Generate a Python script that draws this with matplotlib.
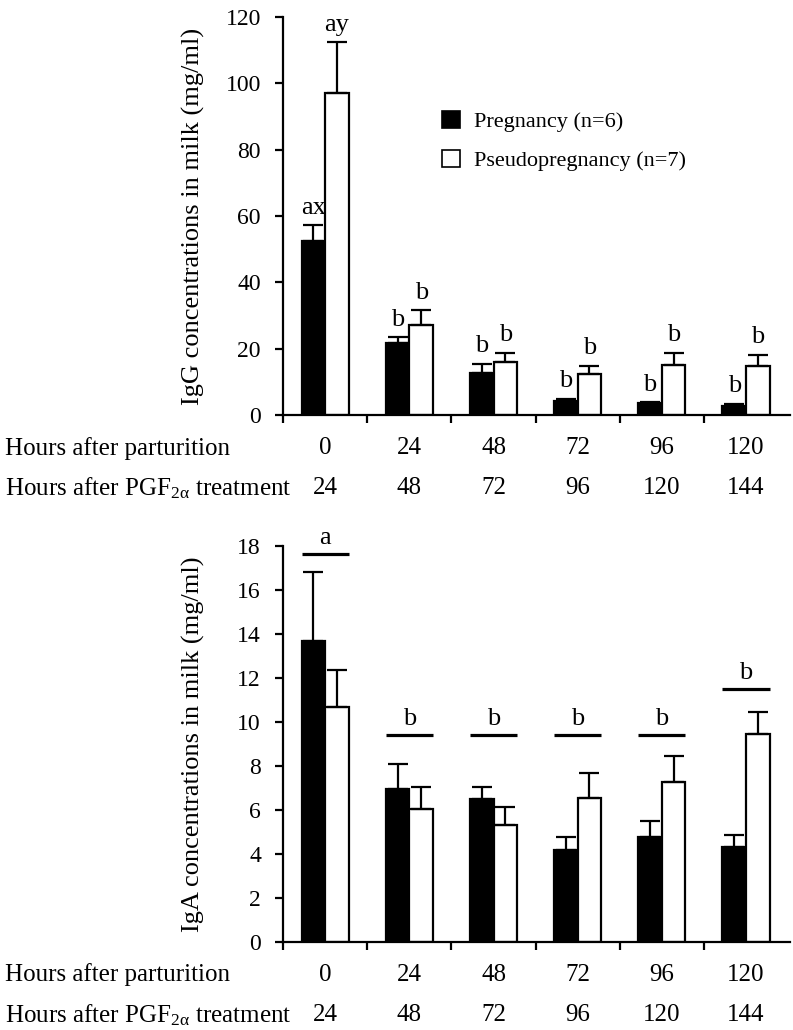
import matplotlib
matplotlib.use("Agg")
import matplotlib.pyplot as plt
from matplotlib.patches import Patch
import numpy as np

plt.rcParams["font.family"] = ["Liberation Serif", "DejaVu Serif"]
plt.rcParams["mathtext.fontset"] = "custom"
plt.rcParams["mathtext.rm"] = "Liberation Serif"
plt.rcParams["mathtext.it"] = "Liberation Serif:italic"

hours_parturition = ["0", "24", "48", "72", "96", "120"]
hours_pgf = ["24", "48", "72", "96", "120", "144"]

# IgG (mg/ml), mean and upper SE
igg_preg = [52.4, 21.7, 12.6, 4.2, 3.6, 2.7]
igg_preg_err = [4.8, 1.8, 2.8, 0.7, 0.3, 0.7]
igg_pseudo = [97.0, 27.1, 16.0, 12.3, 15.1, 14.8]
igg_pseudo_err = [15.4, 4.5, 2.7, 2.5, 3.6, 3.3]
igg_preg_letters = ["ax", "b", "b", "b", "b", "b"]
igg_pseudo_letters = ["ay", "b", "b", "b", "b", "b"]

# IgA (mg/ml), mean and upper SE
iga_preg = [13.7, 6.95, 6.5, 4.17, 4.75, 4.3]
iga_preg_err = [3.1, 1.15, 0.55, 0.58, 0.75, 0.55]
iga_pseudo = [10.7, 6.03, 5.3, 6.55, 7.27, 9.46]
iga_pseudo_err = [1.65, 1.02, 0.85, 1.12, 1.16, 0.99]
iga_letters = ["a", "b", "b", "b", "b", "b"]
iga_line_y = [17.65, 9.42, 9.42, 9.42, 9.42, 11.5]

W = 0.28
LW = 1.6
FS = 18


def draw_panel(ax, preg, preg_err, pseudo, pseudo_err, ymax, ystep, ylabel):
    x = np.arange(len(preg)) + 0.5
    zeros = np.zeros(len(preg))
    ekw = dict(ecolor="black", elinewidth=LW, capsize=7.5, capthick=LW)
    ax.bar(x - W / 2, preg, W, color="black", edgecolor="black", linewidth=LW,
           yerr=[zeros, preg_err], error_kw=ekw)
    ax.bar(x + W / 2, pseudo, W, color="white", edgecolor="black", linewidth=LW,
           yerr=[zeros, pseudo_err], error_kw=ekw)

    ax.set_xlim(0, 6.02)
    ax.set_ylim(0, ymax)
    ax.set_yticks(np.arange(0, ymax + 0.1, ystep))
    ax.set_xticks(np.arange(0, 6))
    ax.set_xticklabels([])
    ax.tick_params(axis="both", direction="out", length=6, width=LW,
                   labelsize=17, pad=10)
    for s in ["top", "right"]:
        ax.spines[s].set_visible(False)
    for s in ["left", "bottom"]:
        ax.spines[s].set_linewidth(LW)
    ax.spines["left"].set_bounds(0, ymax)

    ax.set_ylabel(ylabel, fontsize=19)
    ax.yaxis.set_label_coords(-0.155, 0.5)

    # two rows of category labels under the axis
    for xi, a, b in zip(x, hours_parturition, hours_pgf):
        ax.annotate(a, xy=(xi, 0), xycoords=("data", "axes fraction"),
                    xytext=(0, -33), textcoords="offset pixels",
                    ha="center", va="center", fontsize=FS)
        ax.annotate(b, xy=(xi, 0), xycoords=("data", "axes fraction"),
                    xytext=(0, -73), textcoords="offset pixels",
                    ha="center", va="center", fontsize=FS)
    ax.annotate("Hours after parturition", xy=(0, 0), xycoords="axes fraction",
                xytext=(-278, -33), textcoords="offset pixels",
                ha="left", va="center", fontsize=FS)
    ax.annotate("Hours after PGF$_{\\mathrm{2α}}$ treatment", xy=(0, 0),
                xycoords="axes fraction", xytext=(-278, -73),
                textcoords="offset pixels", ha="left", va="center", fontsize=FS)
    return x


fig = plt.figure(figsize=(7.93, 10.30), dpi=100)
ax1 = fig.add_axes([0.357, 0.597, 0.639, 0.3865])
ax2 = fig.add_axes([0.357, 0.0855, 0.639, 0.3845])

x = draw_panel(ax1, igg_preg, igg_preg_err, igg_pseudo, igg_pseudo_err, 120, 20,
               "IgG concentrations in milk (mg/ml)")
for xi, m, e, lab in zip(x, igg_preg, igg_preg_err, igg_preg_letters):
    ax1.text(xi - W / 2, m + e + 3.5, lab, ha="center", va="baseline", fontsize=19)
for xi, m, e, lab in zip(x, igg_pseudo, igg_pseudo_err, igg_pseudo_letters):
    ax1.text(xi + W / 2, m + e + 3.5, lab, ha="center", va="baseline", fontsize=19,
             clip_on=False)

handles = [Patch(facecolor="black", edgecolor="black", linewidth=1.2),
           Patch(facecolor="white", edgecolor="black", linewidth=1.2)]
ax1.legend(handles, ["Pregnancy (n=6)", "Pseudopregnancy (n=7)"],
           loc="upper left", bbox_to_anchor=(0.275, 0.815), frameon=False,
           fontsize=16, handlelength=0.8, handleheight=0.8, handletextpad=0.6,
           labelspacing=0.8)

x = draw_panel(ax2, iga_preg, iga_preg_err, iga_pseudo, iga_pseudo_err, 18, 2,
               "IgA concentrations in milk (mg/ml)")
for xi, ly, lab in zip(x, iga_line_y, iga_letters):
    ax2.plot([xi - W, xi + W], [ly, ly], color="black", linewidth=2.3,
             solid_capstyle="butt", clip_on=False)
    ax2.text(xi, ly + 0.45, lab, ha="center", va="baseline", fontsize=19)

fig.savefig("out.png", dpi=100)
